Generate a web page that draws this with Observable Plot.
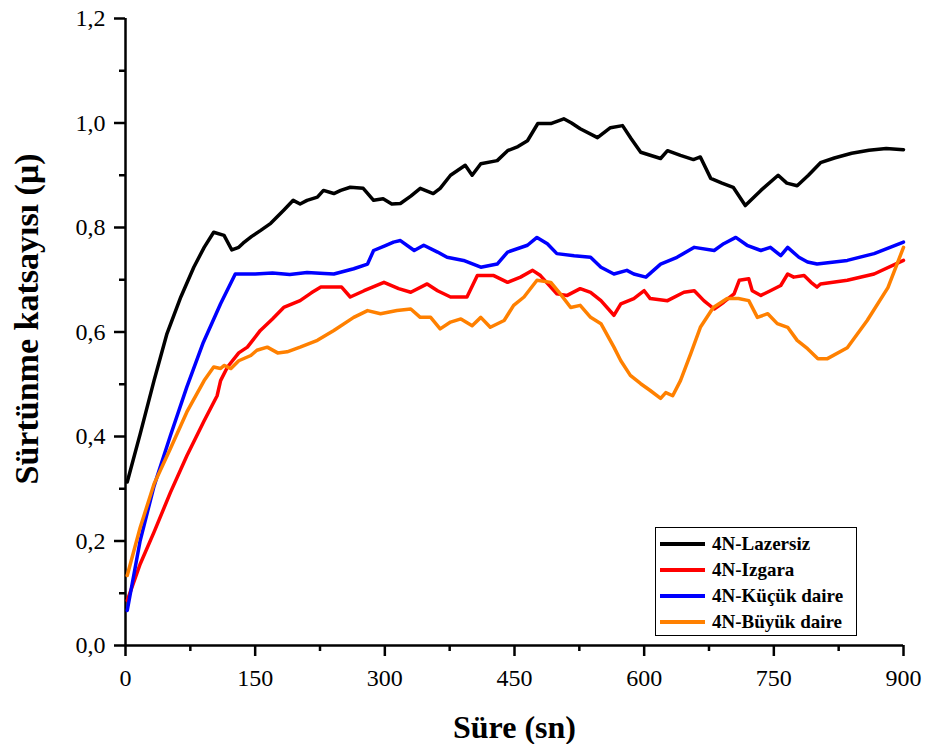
<!DOCTYPE html>
<html>
<head>
<meta charset="utf-8">
<script src="https://cdn.jsdelivr.net/npm/d3@7"></script>
<script src="https://cdn.jsdelivr.net/npm/@observablehq/plot@0.6"></script>
<style>
  body { margin: 0; background: white; }
  #wrap { position: relative; width: 925px; height: 744px; font-family: "Liberation Serif", "Times New Roman", serif; }
  #wrap svg, #wrap svg text { font-family: "Liberation Serif", "Times New Roman", serif; }
  #legend { position: absolute; left: 655px; top: 527px; width: 202px; height: 109px; border: 1px solid #000; background: white; box-sizing: border-box; padding-top: 3px; }
  .row { display: flex; align-items: center; height: 26px; }
  .sw { width: 45px; height: 3.5px; margin-left: 4px; margin-right: 7px; }
  .lb { font-weight: bold; font-size: 19px; white-space: nowrap; }
</style>
</head>
<body>
<div id="wrap"></div>
<script>
// Series names and colours
const seriesNames = ["4N-Lazersiz", "4N-Izgara", "4N-Küçük daire", "4N-Büyük daire"];
const seriesColors = ["#000000", "#ff0000", "#0000ff", "#ff8000"];

// 4N-Lazersiz
const lazersizT = [2, 17, 33, 48, 64, 79, 91, 102, 114, 123, 131, 136, 146, 156, 168, 183, 194, 202, 210, 222, 229, 241, 249, 260, 275, 287, 298, 308, 318, 330, 341, 356, 364, 376, 393, 401, 411, 430, 442, 454, 465, 477, 492, 507, 516, 526, 546, 561, 575, 585, 596, 619, 627, 642, 657, 665, 677, 690, 703, 717, 735, 755, 765, 777, 790, 804, 820, 840, 860, 880, 900];
const lazersizMu = [0.313, 0.405, 0.507, 0.597, 0.667, 0.724, 0.762, 0.791, 0.785, 0.757, 0.762, 0.77, 0.783, 0.794, 0.808, 0.833, 0.852, 0.845, 0.852, 0.858, 0.871, 0.865, 0.871, 0.877, 0.875, 0.852, 0.855, 0.845, 0.846, 0.86, 0.875, 0.865, 0.875, 0.9, 0.919, 0.9, 0.922, 0.928, 0.947, 0.955, 0.966, 0.999, 0.999, 1.008, 1.0, 0.989, 0.972, 0.991, 0.995, 0.97, 0.944, 0.932, 0.947, 0.938, 0.93, 0.935, 0.894, 0.885, 0.877, 0.842, 0.871, 0.9, 0.885, 0.88, 0.9, 0.924, 0.933, 0.942, 0.948, 0.951, 0.949];

// 4N-Izgara
const izgaraT = [2, 17, 33, 52, 71, 91, 106, 110, 118, 131, 141, 156, 170, 183, 202, 215, 226, 241, 250, 260, 276, 299, 316, 330, 349, 361, 376, 395, 407, 426, 442, 457, 471, 480, 499, 511, 526, 538, 550, 565, 573, 588, 600, 607, 627, 646, 658, 669, 681, 692, 704, 710, 721, 725, 735, 746, 758, 766, 773, 785, 793, 800, 804, 835, 866, 900];
const izgaraMu = [0.086, 0.156, 0.217, 0.293, 0.363, 0.43, 0.478, 0.507, 0.533, 0.56, 0.571, 0.603, 0.625, 0.647, 0.66, 0.675, 0.686, 0.686, 0.686, 0.667, 0.679, 0.695, 0.683, 0.676, 0.692, 0.679, 0.667, 0.667, 0.708, 0.708, 0.695, 0.705, 0.718, 0.708, 0.673, 0.67, 0.683, 0.676, 0.66, 0.632, 0.654, 0.664, 0.679, 0.664, 0.66, 0.676, 0.679, 0.66, 0.644, 0.657, 0.673, 0.699, 0.702, 0.679, 0.67, 0.679, 0.689, 0.711, 0.705, 0.708, 0.695, 0.686, 0.692, 0.699, 0.711, 0.737];

// 4N-Küçük daire
const kucukT = [2, 17, 33, 52, 71, 90, 110, 127, 150, 170, 190, 210, 230, 241, 264, 280, 287, 300, 310, 318, 334, 345, 361, 372, 391, 411, 430, 442, 465, 476, 488, 499, 519, 538, 550, 565, 580, 588, 602, 619, 638, 658, 681, 692, 706, 719, 735, 746, 758, 766, 779, 789, 800, 835, 866, 900];
const kucukMu = [0.067, 0.201, 0.305, 0.402, 0.495, 0.58, 0.654, 0.711, 0.711, 0.713, 0.71, 0.714, 0.712, 0.711, 0.721, 0.73, 0.756, 0.765, 0.772, 0.775, 0.756, 0.766, 0.753, 0.743, 0.737, 0.724, 0.73, 0.753, 0.766, 0.781, 0.769, 0.75, 0.746, 0.743, 0.724, 0.711, 0.718, 0.711, 0.705, 0.73, 0.743, 0.762, 0.756, 0.769, 0.781, 0.766, 0.756, 0.762, 0.746, 0.762, 0.743, 0.734, 0.73, 0.737, 0.75, 0.772];

// 4N-Büyük daire
const buyukT = [2, 17, 33, 52, 71, 91, 102, 110, 114, 122, 131, 145, 152, 164, 176, 187, 202, 222, 241, 264, 280, 295, 314, 330, 341, 353, 364, 376, 388, 401, 411, 422, 438, 449, 461, 476, 492, 503, 515, 526, 538, 550, 565, 573, 584, 596, 607, 619, 625, 633, 642, 654, 665, 680, 696, 709, 721, 731, 743, 754, 766, 777, 789, 801, 812, 835, 858, 882, 900];
const buyukMu = [0.134, 0.226, 0.309, 0.377, 0.447, 0.507, 0.533, 0.53, 0.536, 0.53, 0.545, 0.555, 0.565, 0.571, 0.56, 0.562, 0.571, 0.584, 0.603, 0.628, 0.641, 0.635, 0.641, 0.644, 0.628, 0.628, 0.606, 0.619, 0.625, 0.612, 0.628, 0.609, 0.622, 0.651, 0.667, 0.699, 0.695, 0.673, 0.647, 0.651, 0.628, 0.616, 0.571, 0.545, 0.517, 0.501, 0.488, 0.473, 0.484, 0.478, 0.507, 0.559, 0.609, 0.647, 0.664, 0.664, 0.66, 0.628, 0.635, 0.616, 0.609, 0.584, 0.568, 0.549, 0.549, 0.57, 0.622, 0.685, 0.762];

// Ticks and labels
const xMajor = [0, 150, 300, 450, 600, 750, 900];
const xMinor = [75, 225, 375, 525, 675, 825];
const yMajor = [0, 0.2, 0.4, 0.6, 0.8, 1.0, 1.2];
const yMinor = [0.1, 0.3, 0.5, 0.7, 0.9, 1.1];
const xTitle = "Süre (sn)";
const yTitle = "Sürtünme katsayısı (μ)";

const allT = [lazersizT, izgaraT, kucukT, buyukT];
const allMu = [lazersizMu, izgaraMu, kucukMu, buyukMu];
const rows = [];
allT.forEach((ts, i) => ts.forEach((t, j) => rows.push({series: seriesNames[i], t, mu: allMu[i][j]})));

const fmt = d => d.toFixed(1).replace(".", ",");
const font = "'Liberation Serif', 'Times New Roman', serif";

const chart = Plot.plot({
  width: 925,
  height: 744,
  marginLeft: 125,
  marginRight: 22,
  marginTop: 18,
  marginBottom: 99,
  style: "background: white; color: black; font-family: 'Liberation Serif', 'Times New Roman', serif;",
  x: {domain: [0, 900]},
  y: {domain: [0, 1.2]},
  color: {domain: seriesNames, range: seriesColors},
  marks: [
    Plot.axisX(xMajor, {tickSize: 11, tickPadding: 12, strokeWidth: 2.5, fontSize: 24, fontFamily: font, label: null, tickFormat: d => String(d)}),
    Plot.axisX(xMinor, {tickSize: 6, strokeWidth: 2.5, fill: "none", label: null}),
    Plot.axisY(yMajor, {tickSize: 11, tickPadding: 9, strokeWidth: 2.5, fontSize: 24, fontFamily: font, label: null, tickFormat: fmt}),
    Plot.axisY(yMinor, {tickSize: 6, strokeWidth: 2.5, fill: "none", label: null}),
    Plot.ruleX([0], {strokeWidth: 2.5}),
    Plot.ruleY([0], {strokeWidth: 2.5}),
    Plot.line(rows, {x: "t", y: "mu", z: "series", stroke: "series", strokeWidth: 3.5, strokeLinejoin: "round"}),
    Plot.text([xTitle], {frameAnchor: "bottom", lineAnchor: "middle", dy: 82, fontSize: 32, fontWeight: "bold", fontFamily: font, text: d => d}),
    Plot.text([yTitle], {frameAnchor: "left", textAnchor: "middle", lineAnchor: "middle", rotate: -90, dx: -98, dy: -13, fontSize: 34, fontWeight: "bold", fontFamily: font, text: d => d})
  ]
});

const wrap = document.getElementById("wrap");
wrap.appendChild(chart);

const legend = document.createElement("div");
legend.id = "legend";
seriesNames.forEach((name, i) => {
  const row = document.createElement("div");
  row.className = "row";
  const sw = document.createElement("div");
  sw.className = "sw";
  sw.style.background = seriesColors[i];
  const lb = document.createElement("span");
  lb.className = "lb";
  lb.textContent = name;
  row.appendChild(sw);
  row.appendChild(lb);
  legend.appendChild(row);
});
wrap.appendChild(legend);
</script>
</body>
</html>
